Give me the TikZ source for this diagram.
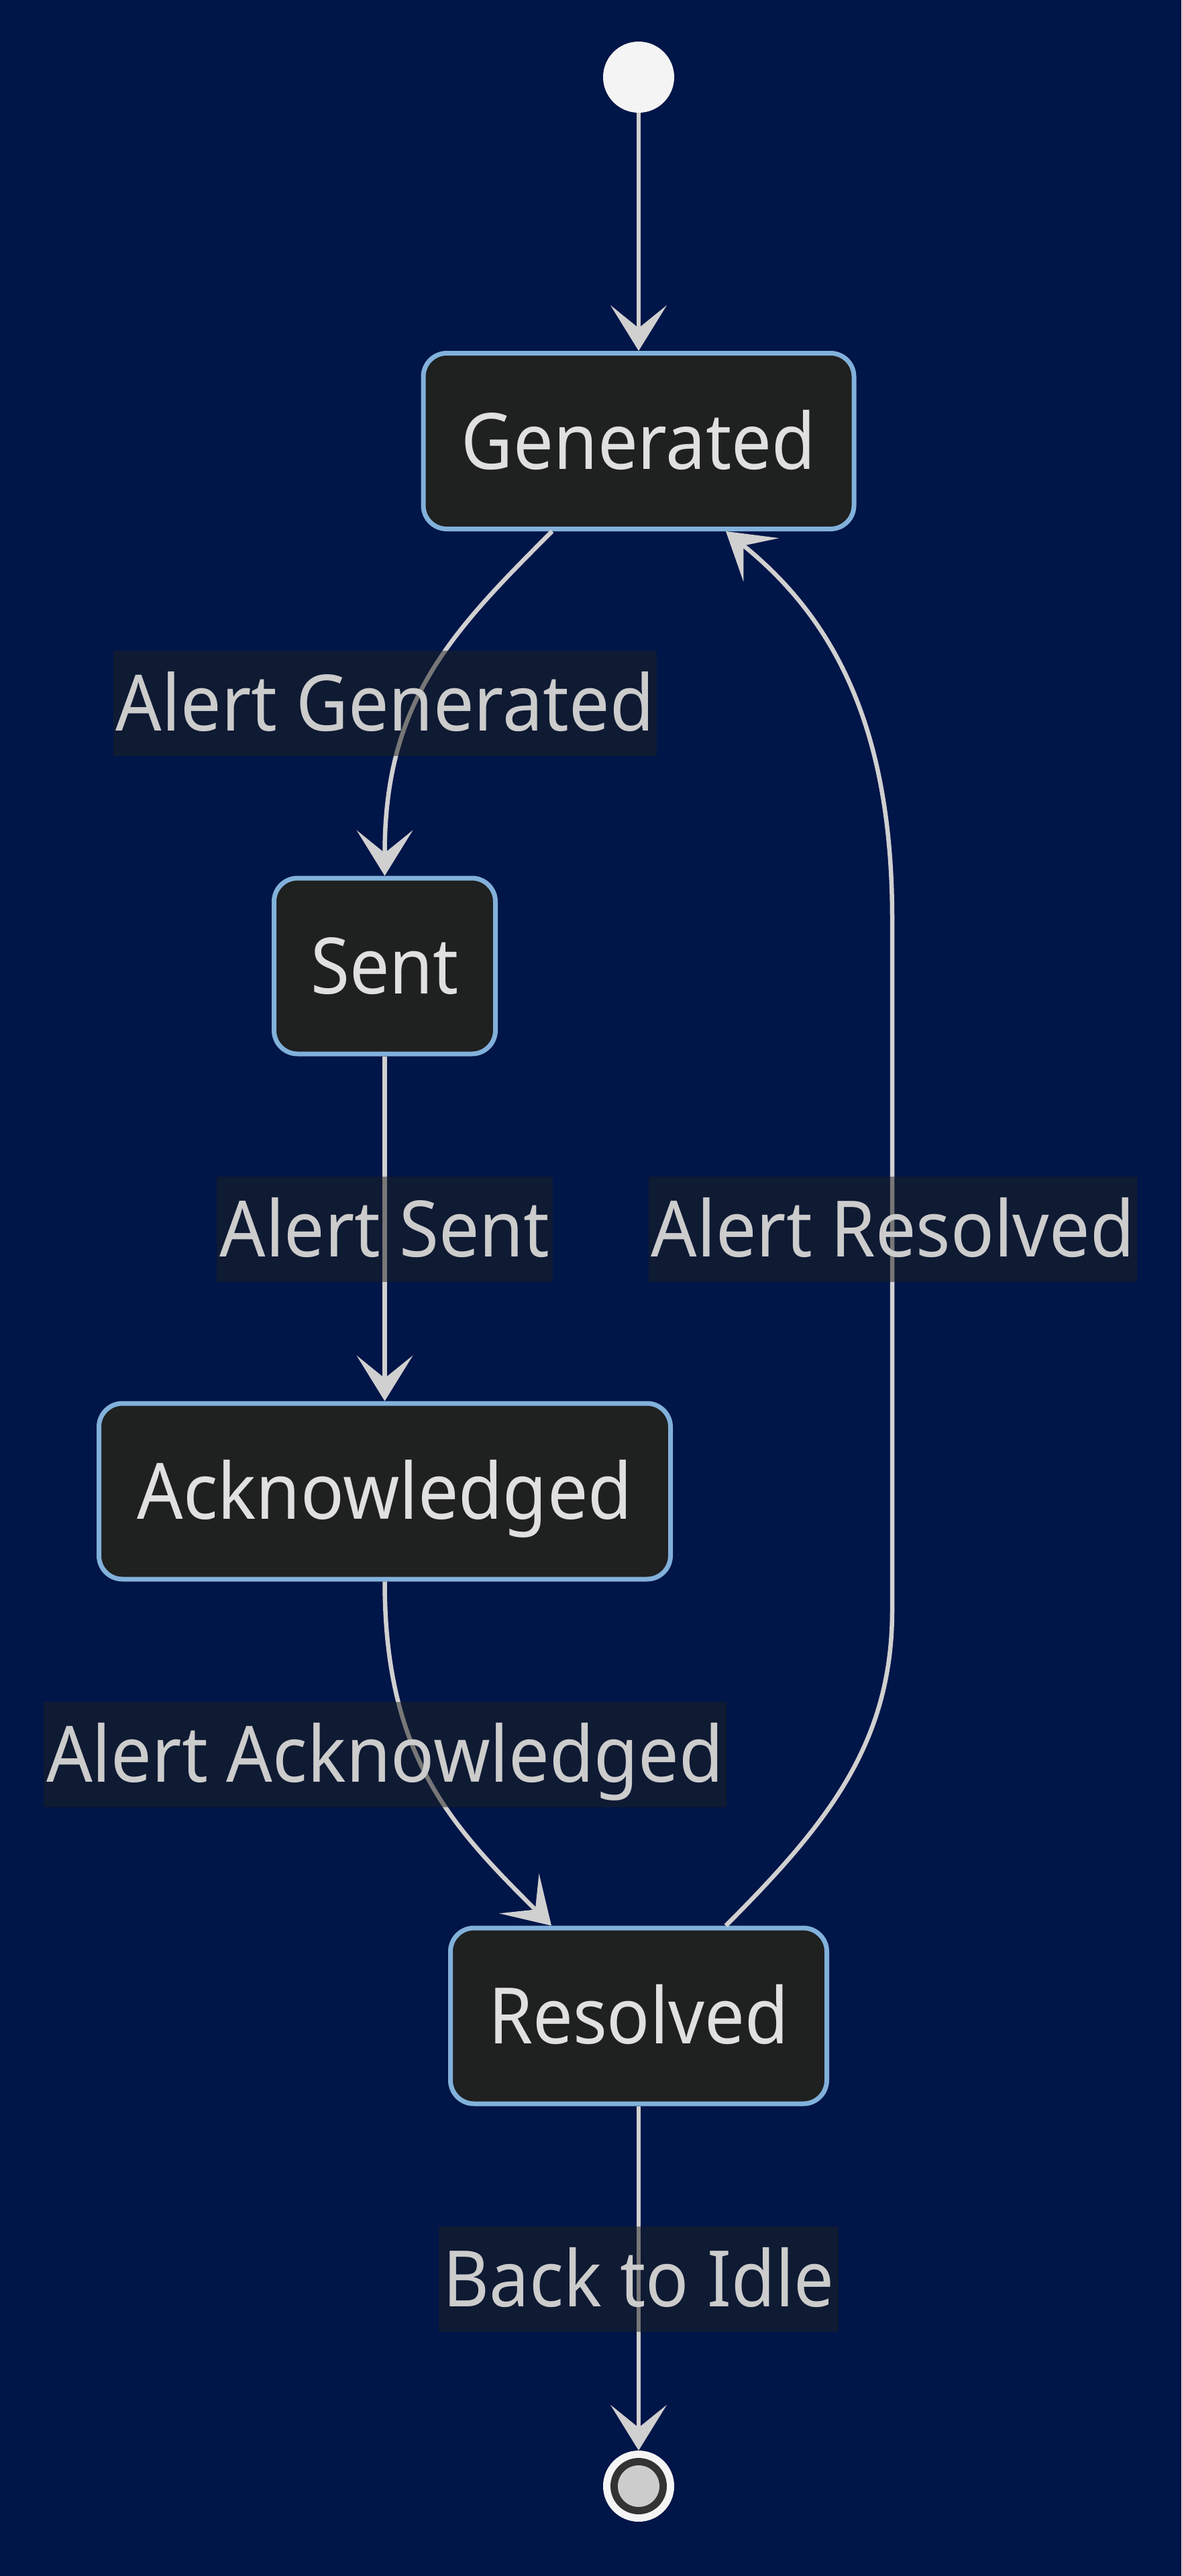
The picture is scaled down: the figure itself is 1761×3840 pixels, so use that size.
\documentclass[tikz,border=0pt]{standalone}
\usepackage{fontspec}
\setmainfont{Noto Sans}
\usepackage{graphicx}
\usetikzlibrary{arrows.meta,calc}
\definecolor{bgc}{HTML}{001548}
\definecolor{nodefill}{HTML}{1F2020}
\definecolor{nodeborder}{HTML}{81B1DB}
\definecolor{nodetext}{HTML}{E0E0E0}
\definecolor{edgec}{HTML}{D0D0D0}
\definecolor{labeltext}{HTML}{CCCCCC}
\definecolor{startc}{HTML}{F4F4F4}
\definecolor{endring}{HTML}{333333}
\definecolor{endcore}{HTML}{CCCCCC}
\newcommand{\fitw}[2]{\resizebox{#1pt}{\height}{#2}}
\begin{document}
\begin{tikzpicture}[x=1pt,y=-1pt,
  state/.style={draw=nodeborder, line width=7pt, fill=nodefill, rounded corners=35pt,
    text=nodetext, font=\fontsize{116}{140}\selectfont, minimum height=262pt,
    inner sep=0pt, text height=83pt, text depth=0pt},
  elabel/.style={fill=nodefill, fill opacity=0.5, text opacity=1, text=labeltext,
    font=\fontsize{116}{140}\selectfont, inner xsep=4pt, inner ysep=37.5pt,
    text height=82pt, text depth=0pt},
  edge/.style={draw=edgec, line width=6.5pt,
    -{Stealth[length=68pt,width=84pt,inset=34pt,line width=1pt]}}
]
\fill[bgc] (0,0) rectangle (1761,3840);
\useasboundingbox (0,0) rectangle (1761,3840);

% states
\node[circle, fill=startc, minimum size=106pt, inner sep=0pt] (start) at (952,115) {};
\node[state, minimum width=642pt] (gen) at (952,657.5) {\fitw{528}{Generated}};
\node[state, minimum width=330pt] (sent) at (573.5,1440) {\fitw{221}{Sent}};
\node[state, minimum width=852pt] (ack) at (573.5,2223) {\fitw{738}{Acknowledged}};
\node[state, minimum width=561pt] (res) at (952,3005) {\fitw{448}{Resolved}};
\node[circle, fill=startc, minimum size=106pt, inner sep=0pt] (end) at (952,3706) {};
\fill[endring] (end.center) circle (42);
\fill[endcore] (end.center) circle (31);

% edges
\draw[edge] (start) -- (gen);
\draw[edge] ([xshift=-129pt]gen.south) .. controls (673,942) and (573.5,1045) .. (sent.north);
\draw[edge] (sent) -- (ack);
\draw[edge] (ack.south) .. controls (573.5,2617) and (672,2721) .. ([xshift=-130pt]res.north);
\draw[edge] ([xshift=130pt]res.north) .. controls (1232,2720) and (1330,2600) .. (1330,2400)
  -- (1330,1370) .. controls (1330,1080) and (1240,920) .. ([xshift=130pt]gen.south);
\draw[edge] (res) -- (end);

% labels
\node[elabel] (lgen) at (574,1048.5) {\fitw{802}{Alert Generated}};
\node[elabel] (lsent) at (573.5,1832) {\fitw{492}{Alert Sent}};
\node[elabel] (lres) at (1331,1832) {\fitw{720}{Alert Resolved}};
\node[elabel] (lack) at (574,2615) {\fitw{1010}{Alert Acknowledged}};
\node[elabel, inner xsep=6.5pt] (lidle) at (952,3397.5) {\fitw{583}{Back to Idle}};
\end{tikzpicture}
\end{document}
